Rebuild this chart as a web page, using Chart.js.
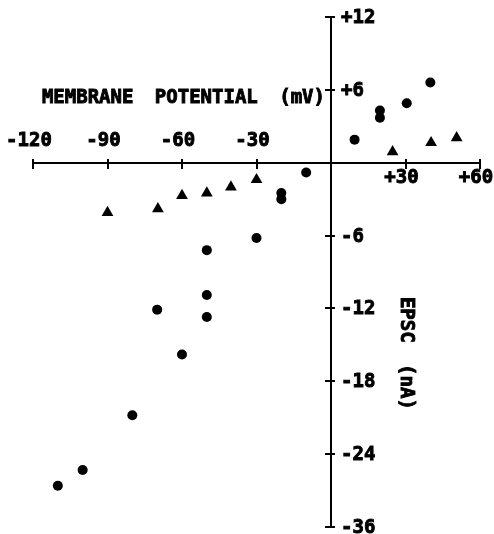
<html>
<head>
<meta charset="utf-8">
<script src="https://cdn.jsdelivr.net/npm/chart.js@4.4.0/dist/chart.umd.min.js"></script>
<style>
    html, body { margin: 0; padding: 0; background: #fff; }
    #wrap { width: 494px; height: 534px; }
</style>
<script>
    var xTitle = 'MEMBRANE POTENTIAL (mV)';
    var yTitle = 'EPSC (nA)';

    var xTicks = [-120, -90, -60, -30, 0, 30, 60];
    var xTickLabels = ['-120', '-90', '-60', '-30', '', '+30', '+60'];
    var yTicks = [12, 6, 0, -6, -12, -18, -24, -30];
    var yTickLabels = ['+12', '+6', '', '-6', '-12', '-18', '-24', '-36'];

    // filled circles
    var circleX = [-110, -100, -80, -70, -60, -50, -50, -50, -30, -20, -20, -10, 9.5, 19.7, 19.7, 30.5, 40];
    var circleY = [-26.6, -25.3, -20.8, -12.1, -15.8, -12.7, -10.9, -7.2, -6.2, -3.0, -2.5, -0.8, 1.9, 3.7, 4.3, 4.9, 6.6];

    // filled triangles
    var triX = [-90, -69.7, -60, -50, -40.3, -30, 24.8, 40.3, 50.6];
    var triY = [-4.1, -3.8, -2.7, -2.5, -2.0, -1.4, 0.9, 1.65, 2.05];

    var FONT = '"DejaVu Sans Mono", monospace';

    function toPoints(xs, ys)
    {
        var pts = [];
        for (var i = 0; i < xs.length; i++) {
            pts.push({x: xs[i], y: ys[i]});
        }
        return pts;
    }

    function xLabel(v, positive)
    {
        var i = xTicks.indexOf(v);
        if (i < 0) return '';
        if (positive && v > 0) return xTickLabels[i];
        if (!positive && v < 0) return xTickLabels[i];
        return '';
    }

    function heavyText(ctx, s, x, y)
    {
        ctx.strokeText(s, x, y);
        ctx.fillText(s, x, y);
    }

    // y tick labels sit to the right of the axis, plus the two titles
    var labelPlugin = {
        id: 'labels',
        afterDraw: function(chart) {
            var ctx = chart.ctx;
            var xs = chart.scales.x, ys = chart.scales.y;
            var x0 = xs.getPixelForValue(0);
            ctx.save();
            ctx.fillStyle = '#000';
            ctx.strokeStyle = '#000';
            ctx.lineWidth = 0.9;
            ctx.font = 'bold 19px ' + FONT;
            ctx.textBaseline = 'middle';
            ctx.textAlign = 'left';
            for (var i = 0; i < yTicks.length; i++) {
                if (!yTickLabels[i]) continue;
                heavyText(ctx, yTickLabels[i], x0 + 10, ys.getPixelForValue(yTicks[i]) + 1);
            }
            ctx.wordSpacing = '10px';
            ctx.textAlign = 'right';
            heavyText(ctx, xTitle, x0 - 6, ys.getPixelForValue(5.35));
            ctx.translate(xs.getPixelForValue(30), ys.getPixelForValue(-15.7));
            ctx.rotate(Math.PI / 2);
            ctx.textAlign = 'center';
            heavyText(ctx, yTitle, 0, 0);
            ctx.restore();
        }
    };

    function zeroPad(scale)
    {
        scale.paddingLeft = 0;
        scale.paddingRight = 0;
        scale.paddingTop = 0;
        scale.paddingBottom = 0;
    }

    function setTicks(list)
    {
        return function(s) { s.ticks = list.map(function(v) { return {value: v}; }); };
    }

    function doLoading()
    {
        Chart.defaults.font.family = FONT;
        Chart.defaults.font.weight = 'bold';
        Chart.defaults.font.size = 19;
        Chart.defaults.color = '#000';

        var axisGrid = function(len) {
            return { drawOnChartArea: false, drawTicks: true, tickLength: len, color: '#000', lineWidth: 2 };
        };

        var ctx = document.getElementById('chartCanvas').getContext('2d');
        new Chart(ctx, {
            type: 'scatter',
            data: {
                datasets: [
                    {
                        label: 'circles',
                        data: toPoints(circleX, circleY),
                        pointStyle: 'circle',
                        pointRadius: 5,
                        backgroundColor: '#000',
                        borderColor: '#000',
                        borderWidth: 0
                    },
                    {
                        label: 'triangles',
                        data: toPoints(triX, triY),
                        pointStyle: 'triangle',
                        pointRadius: 6.8,
                        backgroundColor: '#000',
                        borderColor: '#000',
                        borderWidth: 0
                    }
                ]
            },
            options: {
                responsive: true,
                maintainAspectRatio: false,
                animation: false,
                layout: { padding: { left: 33, right: 14, top: 17, bottom: 7 } },
                plugins: { legend: { display: false }, tooltip: { enabled: false } },
                scales: {
                    x: {
                        type: 'linear', min: -120, max: 60,
                        position: { y: 0 },
                        afterFit: zeroPad,
                        afterBuildTicks: setTicks(xTicks),
                        ticks: { padding: -1, labelOffset: -4, maxRotation: 0, autoSkip: false,
                                 textStrokeColor: '#000', textStrokeWidth: 0.9,
                                 callback: function(v) { return xLabel(v, true); } },
                        grid: axisGrid(5),
                        border: { display: true, color: '#000', width: 2 }
                    },
                    x2: {
                        type: 'linear', axis: 'x', min: -120, max: 60,
                        position: { y: 0 },
                        afterFit: zeroPad,
                        afterBuildTicks: setTicks(xTicks),
                        ticks: { padding: -28, labelOffset: -4, maxRotation: 0, autoSkip: false,
                                 textStrokeColor: '#000', textStrokeWidth: 0.9,
                                 callback: function(v) { return xLabel(v, false); } },
                        grid: axisGrid(-5),
                        border: { display: true, color: '#000', width: 2 }
                    },
                    y: {
                        type: 'linear', min: -30, max: 12,
                        position: { x: 0 },
                        afterFit: zeroPad,
                        afterBuildTicks: setTicks(yTicks),
                        ticks: { display: false },
                        grid: axisGrid(5),
                        border: { display: true, color: '#000', width: 2 }
                    },
                    y2: {
                        type: 'linear', axis: 'y', min: -30, max: 12,
                        position: { x: 0 },
                        afterFit: zeroPad,
                        afterBuildTicks: setTicks(yTicks),
                        ticks: { display: false },
                        grid: axisGrid(-5),
                        border: { display: true, color: '#000', width: 2 }
                    }
                }
            },
            plugins: [labelPlugin]
        });
    }
</script>
</head>
<body onload=doLoading()>
<div id="wrap"><canvas id="chartCanvas"></canvas></div>
</body>
</html>
